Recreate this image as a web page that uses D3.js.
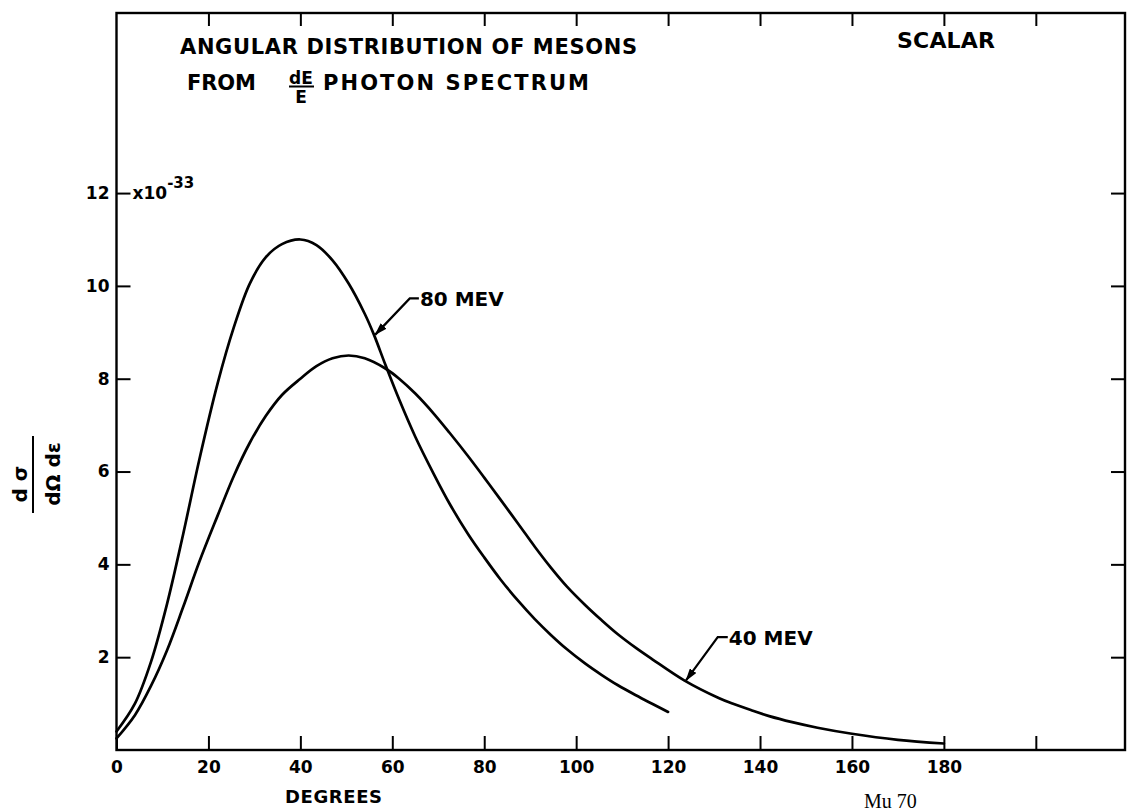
<!DOCTYPE html>
<html>
<head>
<meta charset="utf-8">
<script src="https://cdn.jsdelivr.net/npm/d3@7"></script>
<style>
  body { margin: 0; background: #fff; }
  svg { display: block; font-family: "DejaVu Sans", sans-serif; font-weight: bold; }
</style>
</head>
<body>
<div id="chart"></div>
<script>
"use strict";

// angles in degrees, cross section in units of 10^-33
const deg80 = [0, 4, 7.5, 11, 14.5, 18, 22, 25.5, 29, 32.5, 36, 40, 43.5, 47, 50.5, 54, 56, 58.5, 61.5, 65, 69, 72.5, 76.5, 80, 83.5, 87.5, 91, 94.5, 98, 102, 105.5, 109, 113, 120];
const val80 = [0.4, 1.0, 1.9, 3.15, 4.65, 6.25, 7.9, 9.1, 10.05, 10.62, 10.9, 11.0, 10.88, 10.55, 10.05, 9.4, 8.95, 8.3, 7.55, 6.75, 5.95, 5.3, 4.65, 4.15, 3.68, 3.2, 2.82, 2.48, 2.17, 1.86, 1.62, 1.4, 1.18, 0.82];

const deg40 = [0, 4, 7.5, 11, 14.5, 18, 22, 25.5, 29, 32.5, 36, 40, 43.5, 47, 50.5, 54, 58.5, 61.5, 65, 69, 72.5, 76.5, 80, 83.5, 87.5, 91, 94.5, 98, 102, 105.5, 109, 113, 116.5, 123.5, 131, 134, 138, 142, 147, 152.5, 160, 170, 180];
const val40 = [0.25, 0.75, 1.38, 2.15, 3.08, 4.05, 5.05, 5.9, 6.62, 7.2, 7.65, 8.0, 8.27, 8.44, 8.5, 8.44, 8.22, 8.0, 7.68, 7.25, 6.83, 6.33, 5.87, 5.4, 4.86, 4.38, 3.93, 3.52, 3.12, 2.8, 2.5, 2.2, 1.96, 1.5, 1.12, 1.0, 0.86, 0.73, 0.6, 0.48, 0.35, 0.22, 0.14];

const xTicks = [0, 20, 40, 60, 80, 100, 120, 140, 160, 180, 200];
const xLabels = ["0", "20", "40", "60", "80", "100", "120", "140", "160", "180", ""];
const yTicks = [2, 4, 6, 8, 10, 12];
const yLabels = ["2", "4", "6", "8", "10", "12"];

const series = [
  { name: "80 MEV", deg: deg80, val: val80 },
  { name: "40 MEV", deg: deg40, val: val40 },
];

///////////////////////////
// canvas and scales
///////////////////////////
const width = 1127, height = 811;
const xMax = 219.4, yMax = 15.88;

const x = d3.scaleLinear().domain([0, xMax]).range([116.5, 1125]);
const y = d3.scaleLinear().domain([0, yMax]).range([750, 13]);

const svg = d3
  .select("#chart")
  .append("svg")
  .attr("width", width)
  .attr("height", height);

svg.append("rect").attr("width", width).attr("height", height).attr("fill", "#fff");

///////////////////////////
// axes, all ticks pointing inward
///////////////////////////
const styleAxis = (g) => {
  g.select(".domain").remove();
  g.attr("font-size", 17).attr("font-family", "DejaVu Sans").attr("font-weight", "bold");
  g.selectAll(".tick line").attr("stroke", "#000").attr("stroke-width", 2);
  g.selectAll(".tick text").attr("fill", "#000");
};

svg
  .append("g")
  .attr("transform", `translate(0,${y(0)})`)
  .call(
    d3.axisBottom(x).tickValues(xTicks).tickSize(-14).tickPadding(11)
      .tickFormat((d, i) => xLabels[i])
  )
  .call(styleAxis);

svg
  .append("g")
  .attr("transform", `translate(0,${y(yMax)})`)
  .call(d3.axisTop(x).tickValues(xTicks.slice(1)).tickSize(-13).tickFormat(""))
  .call(styleAxis);

svg
  .append("g")
  .attr("transform", `translate(${x(0)},0)`)
  .call(
    d3.axisLeft(y).tickValues(yTicks).tickSize(-14).tickPadding(7)
      .tickFormat((d, i) => yLabels[i])
  )
  .call(styleAxis);

svg
  .append("g")
  .attr("transform", `translate(${x(xMax)},0)`)
  .call(d3.axisRight(y).tickValues(yTicks).tickSize(-14).tickFormat(""))
  .call(styleAxis);

// frame
svg
  .append("rect")
  .attr("x", x(0))
  .attr("y", y(yMax))
  .attr("width", x(xMax) - x(0))
  .attr("height", y(0) - y(yMax))
  .attr("fill", "none")
  .attr("stroke", "#000")
  .attr("stroke-width", 2.4);

// multiplier next to the 12 tick
const mult = svg
  .append("text")
  .attr("x", x(0) + 16)
  .attr("y", y(12) + 6)
  .attr("font-size", 17);
mult.append("tspan").text("x10");
mult.append("tspan").attr("font-size", 15).attr("dy", -11).text("-33");

///////////////////////////
// curves
///////////////////////////
const line = d3
  .line()
  .x((d) => x(d[0]))
  .y((d) => y(d[1]))
  .curve(d3.curveCatmullRom.alpha(0.5));

svg
  .selectAll("path.curve")
  .data(series)
  .enter()
  .append("path")
  .attr("class", "curve")
  .attr("d", (s) => line(s.deg.map((d, i) => [d, s.val[i]])))
  .attr("fill", "none")
  .attr("stroke", "#000")
  .attr("stroke-width", 2.7)
  .attr("stroke-linejoin", "round")
  .attr("stroke-linecap", "round");

///////////////////////////
// arrow labels
///////////////////////////
svg
  .append("defs")
  .append("marker")
  .attr("id", "head")
  .attr("viewBox", "0 0 13 8")
  .attr("refX", 12)
  .attr("refY", 4)
  .attr("markerWidth", 13)
  .attr("markerHeight", 8)
  .attr("markerUnits", "userSpaceOnUse")
  .attr("orient", "auto")
  .append("path")
  .attr("d", "M0,0 L13,4 L0,8 Z")
  .attr("fill", "#000");

const notes = [
  { text: "80 MEV", tip: [56.3, 8.95], corner: [63.8, 9.73], start: 66.0 },
  { text: "40 MEV", tip: [123.9, 1.5], corner: [130.8, 2.43], start: 133.2 },
];

notes.forEach((n) => {
  svg
    .append("path")
    .attr(
      "d",
      `M${x(n.start) - 1},${y(n.corner[1])} L${x(n.corner[0])},${y(n.corner[1])} L${x(n.tip[0])},${y(n.tip[1])}`
    )
    .attr("fill", "none")
    .attr("stroke", "#000")
    .attr("stroke-width", 2.2)
    .attr("marker-end", "url(#head)");
  svg
    .append("text")
    .attr("x", x(n.start))
    .attr("y", y(n.corner[1]) + 7.5)
    .attr("font-size", 20)
    .text(n.text);
});

///////////////////////////
// titles
///////////////////////////
svg.append("text").attr("x", 180).attr("y", 53.5).attr("font-size", 21)
  .attr("textLength", 457).attr("lengthAdjust", "spacing")
  .text("ANGULAR DISTRIBUTION OF MESONS");

svg.append("text").attr("x", 187).attr("y", 90).attr("font-size", 21)
  .attr("textLength", 69).attr("lengthAdjust", "spacing")
  .text("FROM");
svg.append("text").attr("x", 301).attr("y", 84).attr("font-size", 17)
  .attr("text-anchor", "middle").text("dE");
svg.append("line").attr("x1", 289).attr("x2", 314).attr("y1", 86.5).attr("y2", 86.5)
  .attr("stroke", "#000").attr("stroke-width", 2);
svg.append("text").attr("x", 301).attr("y", 102.5).attr("font-size", 17)
  .attr("text-anchor", "middle").text("E");
svg.append("text").attr("x", 323).attr("y", 90).attr("font-size", 21)
  .attr("textLength", 266).attr("lengthAdjust", "spacing")
  .text("PHOTON SPECTRUM");

svg.append("text").attr("x", 897).attr("y", 48).attr("font-size", 22)
  .attr("textLength", 98).attr("lengthAdjust", "spacing")
  .text("SCALAR");

svg.append("text").attr("x", 285).attr("y", 803).attr("font-size", 18)
  .attr("textLength", 97).attr("lengthAdjust", "spacing")
  .text("DEGREES");

// y label: dσ / dΩ dε, turned on its side
const yl = svg.append("g").attr("transform", "translate(33,474) rotate(-90)");
yl.append("text").attr("x", -10).attr("y", -6).attr("font-size", 20)
  .attr("text-anchor", "middle").text("d σ");
yl.append("line").attr("x1", -39).attr("x2", 38).attr("y1", 0).attr("y2", 0)
  .attr("stroke", "#000").attr("stroke-width", 2);
yl.append("text").attr("x", 0).attr("y", 27).attr("font-size", 20)
  .attr("text-anchor", "middle").text("dΩ dε");

// plate number at the lower edge
svg.append("text").attr("x", 864).attr("y", 808)
  .attr("font-family", "Liberation Serif").attr("font-weight", "normal")
  .attr("font-size", 20).text("Mu 70");
</script>
</body>
</html>
